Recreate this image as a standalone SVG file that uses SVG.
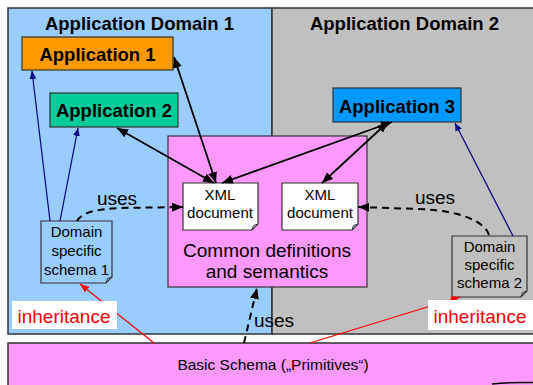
<svg xmlns="http://www.w3.org/2000/svg" width="533" height="385" viewBox="0 0 533 385">
<style>
text{font-family:"Liberation Sans",Arial,sans-serif;fill:#000}
.title{font-size:18.5px;font-weight:bold;text-anchor:middle}
.app{font-size:18.5px;font-weight:bold;text-anchor:middle}
.doc{font-size:15px;text-anchor:middle}
.big{font-size:19px;text-anchor:middle}
.inh{font-size:19px;fill:#FF0000;text-anchor:middle}
.box{stroke:#333;stroke-width:1.2}
.blk{stroke:#000;stroke-width:1.8;fill:none;marker-start:url(#ab);marker-end:url(#ab)}
.nav{stroke:#000080;stroke-width:1.2;fill:none;marker-end:url(#an)}
.red{stroke:#FF0000;stroke-width:1.2;fill:none;marker-end:url(#ar)}
.dash{stroke:#000;stroke-width:2;fill:none;stroke-dasharray:7,5;marker-end:url(#ab)}
</style>
<defs>
<marker id="ab" markerUnits="userSpaceOnUse" markerWidth="11" markerHeight="9" refX="11" refY="4.5" orient="auto-start-reverse"><path d="M0,0 L11,4.5 L0,9 z" fill="#000"/></marker>
<marker id="an" markerUnits="userSpaceOnUse" markerWidth="8" markerHeight="7" refX="8" refY="3.5" orient="auto"><path d="M0,0 L8,3.5 L0,7 z" fill="#000080"/></marker>
<marker id="ar" markerUnits="userSpaceOnUse" markerWidth="9" markerHeight="7" refX="9" refY="3.5" orient="auto"><path d="M0,0 L9,3.5 L0,7 z" fill="#FF0000"/></marker>
</defs>
<rect width="533" height="385" fill="#fff"/>
<g id="domain1">
<rect x="8" y="8" width="264" height="326" fill="#99CCFF" stroke="#333" stroke-width="1.5"/>
<text class="title" x="139.5" y="30">Application Domain 1</text>
</g>
<g id="domain2">
<rect x="272" y="8" width="270" height="326" fill="#C0C0C0" stroke="#333" stroke-width="1.5"/>
<text class="title" x="404.5" y="30">Application Domain 2</text>
</g>
<g id="basic">
<rect x="8" y="343" width="540" height="50" fill="#FF99FF" stroke="#333" stroke-width="1.5"/>
<text x="273" y="370" font-size="15.5" text-anchor="middle">Basic Schema („Primitives“)</text>
<path d="M492,384 Q508,382 533,382.5" stroke="#000" stroke-width="1.5" fill="none"/>
</g>
<g id="app1">
<rect class="box" x="22" y="37" width="151" height="33" fill="#FF9900"/>
<text class="app" x="97.5" y="61">Application 1</text>
</g>
<g id="app2">
<rect class="box" x="50" y="93" width="128" height="34" fill="#00CC99"/>
<text class="app" x="114" y="117">Application 2</text>
</g>
<g id="app3">
<rect class="box" x="333" y="88" width="128" height="34" fill="#0099FF"/>
<text class="app" x="397" y="113">Application 3</text>
</g>
<g id="common">
<rect class="box" x="168" y="136" width="199" height="151" fill="#FF99FF"/>
<text class="big" x="267" y="257">Common definitions</text>
<text class="big" x="267" y="278">and semantics</text>
</g>
<g id="xml1">
<path class="box" d="M183,183 H258 V224 L252,230 H183 Z" fill="#fff"/>
<path d="M252,230 L253.5,225.5 L258,224" stroke="#333" stroke-width="1" fill="none"/>
<text class="doc" x="220" y="200">XML</text>
<text class="doc" x="220" y="218">document</text>
</g>
<g id="xml2">
<path class="box" d="M282,183 H358 V224 L352,230 H282 Z" fill="#fff"/>
<path d="M352,230 L353.5,225.5 L358,224" stroke="#333" stroke-width="1" fill="none"/>
<text class="doc" x="320" y="200">XML</text>
<text class="doc" x="320" y="218">document</text>
</g>
<g id="schema1">
<path class="box" d="M41,221 H112 V277 L106,283 H41 Z" fill="#99CCFF"/>
<path d="M106,283 L107.5,278.5 L112,277" stroke="#333" stroke-width="1" fill="none"/>
<text class="doc" x="76.5" y="237">Domain</text>
<text class="doc" x="76.5" y="256">specific</text>
<text class="doc" x="76.5" y="275">schema 1</text>
</g>
<g id="schema2">
<path class="box" d="M452,236 H527 V291 L521,297 H452 Z" fill="#C0C0C0"/>
<path d="M521,297 L522.5,292.5 L527,291" stroke="#333" stroke-width="1" fill="none"/>
<text class="doc" x="489.5" y="252">Domain</text>
<text class="doc" x="489.5" y="270">specific</text>
<text class="doc" x="489.5" y="288">schema 2</text>
</g>
<g id="connectors">
<line class="blk" x1="174" y1="57" x2="216" y2="183"/>
<line class="blk" x1="117" y1="128" x2="214" y2="183"/>
<line class="blk" x1="392" y1="122" x2="222" y2="183"/>
<line class="blk" x1="388" y1="122" x2="322" y2="183"/>
<line class="nav" x1="50" y1="221" x2="32" y2="71"/>
<line class="nav" x1="60" y1="221" x2="78" y2="128"/>
<line class="nav" x1="513" y1="236" x2="455" y2="123"/>
<path class="dash" d="M77,221 C82,212 98,209 120,208 L183,207"/>
<path class="dash" d="M489,235 C485,222 462,211 420,209 L358,207"/>
<path class="dash" d="M244,343 L257,288"/>
<line class="red" x1="154" y1="343" x2="80" y2="284"/>
<line class="red" x1="310" y1="343" x2="460" y2="297"/>
<text class="big" x="117" y="205">uses</text>
<text class="big" x="435" y="204">uses</text>
<text class="big" x="274" y="327">uses</text>
</g>
<g id="inh1">
<rect x="12" y="301" width="105" height="28" fill="#fff"/>
<text class="inh" x="64" y="323">inheritance</text>
</g>
<g id="inh2">
<rect x="428" y="300" width="105" height="30" fill="#fff"/>
<text class="inh" x="480" y="323">inheritance</text>
</g>
</svg>
